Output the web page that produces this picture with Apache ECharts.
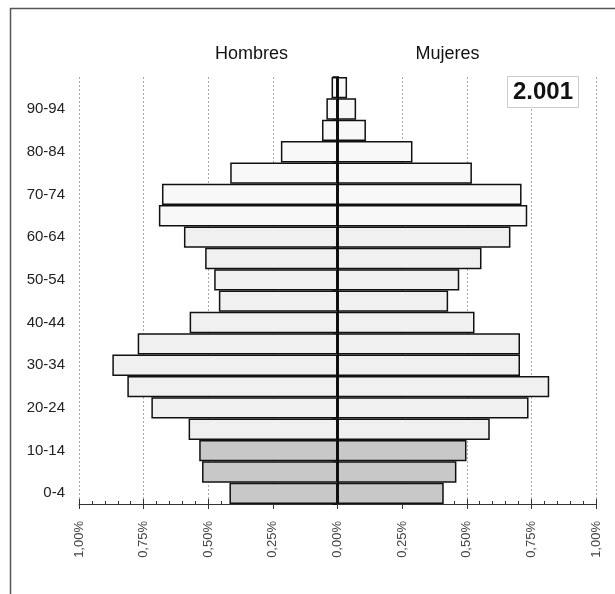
<!DOCTYPE html>
<html>
<head>
<meta charset="utf-8">
<script src="https://cdn.jsdelivr.net/npm/echarts@6/dist/echarts.min.js"></script>
<style>html,body{margin:0;padding:0;background:#fff}#c{width:615px;height:594px}</style>
</head>
<body>
<div id="c"></div>
<script>
const categories = ['0-4','5-9','10-14','15-19','20-24','25-29','30-34','35-39','40-44','45-49','50-54','55-59','60-64','65-69','70-74','75-79','80-84','85-89','90-94','95+'];
const hombres = [0.418,0.524,0.535,0.576,0.720,0.813,0.871,0.773,0.572,0.459,0.477,0.512,0.594,0.691,0.679,0.415,0.219,0.060,0.043,0.023];
const mujeres = [0.411,0.460,0.499,0.589,0.739,0.819,0.706,0.706,0.530,0.428,0.471,0.557,0.669,0.734,0.712,0.520,0.290,0.110,0.072,0.037];
const xTicks = [-1,-0.75,-0.5,-0.25,0,0.25,0.5,0.75,1];
const yearLabel = '2.001';
const sideTitles = ['Hombres','Mujeres'];

const chart = echarts.init(document.getElementById('c'), null, {renderer:'canvas'});
const font = 'Liberation Sans, Arial, sans-serif';
function barColor(p){ return p.dataIndex < 3 ? '#c8c8c8' : (p.dataIndex < 13 ? '#f0f0f0' : '#f8f8f8'); }
const fmt = v => Math.abs(v).toFixed(2).replace('.', ',') + '%';

chart.setOption({
  animation:false,
  textStyle:{fontFamily:font},
  grid:{left:79,right:19,top:77,bottom:90},
  xAxis:[{
    type:'value', min:xTicks[0], max:xTicks[xTicks.length-1], interval:0.25, position:'bottom',
    axisLine:{show:true,onZero:false,lineStyle:{color:'#333',width:1}},
    axisTick:{show:true,inside:false,length:5,lineStyle:{color:'#333'}},
    axisLabel:{rotate:90,margin:17,color:'#444',fontSize:13,fontFamily:font,formatter:fmt},
    splitLine:{show:true,lineStyle:{color:'#aaa',type:[2,2],width:1}}
  },{
    type:'value', min:xTicks[0], max:xTicks[xTicks.length-1], interval:0.25, position:'bottom',
    axisLine:{show:false,onZero:false},
    axisTick:{show:true,inside:true,length:5,lineStyle:{color:'#333'}},
    minorTick:{show:true,splitNumber:5,length:3,lineStyle:{color:'#333'}},
    axisLabel:{show:false}, splitLine:{show:false}
  }],
  yAxis:[{
    type:'category', data:categories, position:'left',
    axisLine:{show:false,onZero:false}, axisTick:{show:false},
    axisLabel:{interval:1,margin:14,color:'#222',fontSize:15,fontFamily:font}
  },{
    type:'category', data:categories, position:'left',
    axisLine:{show:true,onZero:true,lineStyle:{color:'#000',width:2}},
    axisTick:{show:true,interval:1,length:5,lineStyle:{color:'#000',width:1.5}},
    axisLabel:{show:false}
  }],
  series:[{
    name:sideTitles[0], type:'bar', xAxisIndex:0, yAxisIndex:0,
    data:hombres.map(v=>-v), barCategoryGap:'0%', barGap:'-100%',
    itemStyle:{color:barColor,borderColor:'#111',borderWidth:1.5}
  },{
    name:sideTitles[1], type:'bar', xAxisIndex:0, yAxisIndex:0,
    data:mujeres, barCategoryGap:'0%', barGap:'-100%',
    itemStyle:{color:barColor,borderColor:'#111',borderWidth:1.5}
  }],
  graphic:[
    {type:'line',shape:{x1:10.5,y1:8,x2:10.5,y2:594},style:{stroke:'#555',lineWidth:1.5},silent:true},
    {type:'line',shape:{x1:10,y1:8.5,x2:615,y2:8.5},style:{stroke:'#555',lineWidth:1.5},silent:true},
    {type:'text',x:251.5,y:54,style:{text:sideTitles[0],font:'18px '+font,fill:'#111',align:'center',verticalAlign:'middle'}},
    {type:'text',x:447.5,y:54,style:{text:sideTitles[1],font:'18px '+font,fill:'#111',align:'center',verticalAlign:'middle'}},
    {type:'rect',shape:{x:507.5,y:76.5,width:71,height:31},style:{fill:'#fff',stroke:'#ccc',lineWidth:1},z:100},
    {type:'text',x:543,y:92,style:{text:yearLabel,font:'bold 24px '+font,fill:'#111',align:'center',verticalAlign:'middle'},z:101}
  ]
});
</script>
</body>
</html>
